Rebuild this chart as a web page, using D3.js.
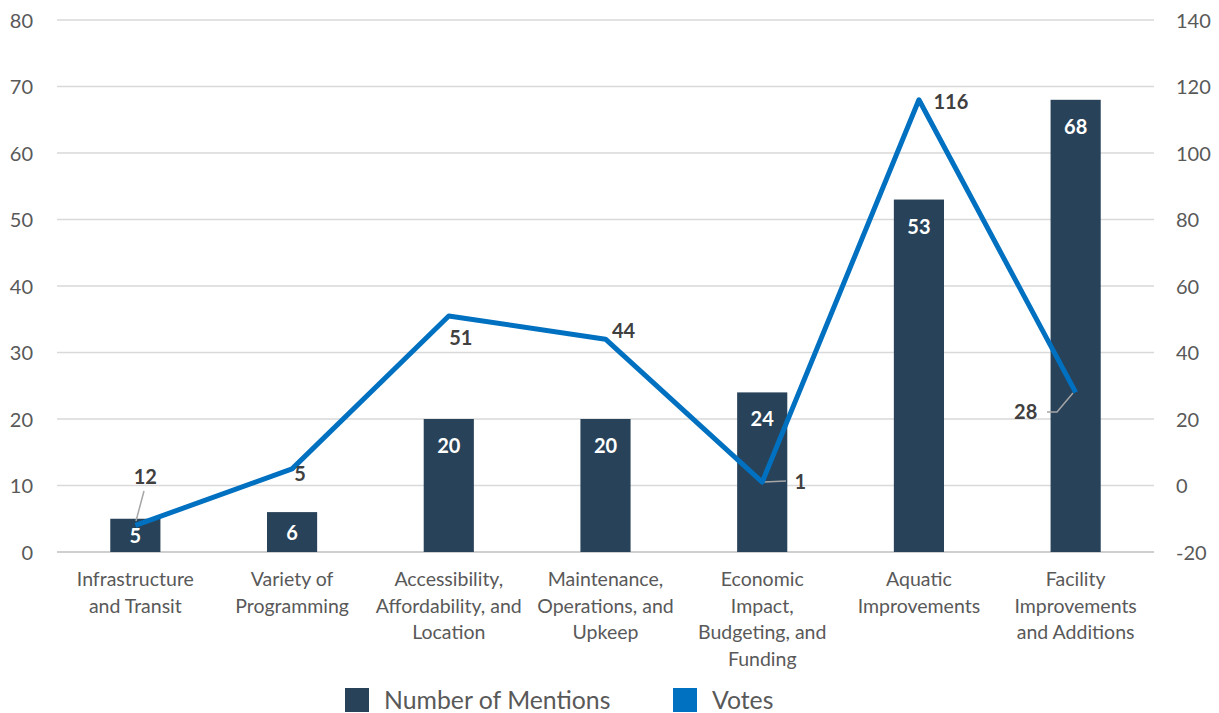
<!DOCTYPE html>
<html lang="en">
<head>
<meta charset="UTF-8">
<title>Mentions and Votes</title>
<script src="https://d3js.org/d3.v7.min.js"></script>
<style>
    body { margin: 0; background: #fff; }
    svg { display: block; font-family: "Lato", "Open Sans", sans-serif; }
</style>
</head>
<body>
<svg id="chart" width="1219" height="713"></svg>
<script>
// data
var categories = [
    ["Infrastructure", "and Transit"],
    ["Variety of", "Programming"],
    ["Accessibility,", "Affordability, and", "Location"],
    ["Maintenance,", "Operations, and", "Upkeep"],
    ["Economic", "Impact,", "Budgeting, and", "Funding"],
    ["Aquatic", "Improvements"],
    ["Facility", "Improvements", "and Additions"]
];
var mentions = [5, 6, 20, 20, 24, 53, 68];
var votes = [-12, 5, 51, 44, 1, 116, 28];
var voteLabels = ["12", "5", "51", "44", "1", "116", "28"];
var leftTicks = [0, 10, 20, 30, 40, 50, 60, 70, 80];
var rightTicks = [-20, 0, 20, 40, 60, 80, 100, 120, 140];

var svg = d3.select("#chart"),
    plotLeft = 57, plotRight = 1154, plotTop = 20, plotBottom = 552;

var x = d3.scaleBand()
    .domain(d3.range(categories.length))
    .range([plotLeft, plotRight])
    .paddingInner(0.68)
    .paddingOuter(0.34);

var yL = d3.scaleLinear().domain([0, 80]).range([plotBottom, plotTop]);
var yR = d3.scaleLinear().domain([-20, 140]).range([plotBottom, plotTop]);

var cx = function(i) { return x(i) + x.bandwidth() / 2; };

// gridlines
svg.append("g")
    .selectAll("line")
    .data(leftTicks)
    .join("line")
    .attr("x1", plotLeft).attr("x2", plotRight)
    .attr("y1", function(d) { return yL(d); })
    .attr("y2", function(d) { return yL(d); })
    .attr("stroke", function(d) { return d === 0 ? "#bfbfbf" : "#d9d9d9"; })
    .attr("stroke-width", 1.5);

// left axis
var axL = svg.append("g")
    .attr("transform", "translate(33,0)")
    .call(d3.axisLeft(yL).tickValues(leftTicks).tickSize(0).tickPadding(0));
axL.select(".domain").remove();
axL.selectAll("text")
    .attr("font-size", 20).attr("fill", "#595959").attr("dy", "0.35em")
    .style("font-family", "Lato, sans-serif");

// right axis (plain hyphen for negatives, like the original)
var axR = svg.append("g")
    .attr("transform", "translate(1176,0)")
    .call(d3.axisRight(yR).tickValues(rightTicks).tickSize(0).tickPadding(0)
        .tickFormat(function(d) { return String(d); }));
axR.select(".domain").remove();
axR.selectAll("text")
    .attr("font-size", 20).attr("fill", "#595959").attr("dy", "0.35em")
    .style("font-family", "Lato, sans-serif");

// bars
svg.append("g")
    .selectAll("rect")
    .data(mentions)
    .join("rect")
    .attr("x", function(d, i) { return x(i); })
    .attr("y", function(d) { return yL(d); })
    .attr("width", x.bandwidth())
    .attr("height", function(d) { return yL(0) - yL(d); })
    .attr("fill", "#284259");

// bar labels sit inside the top, centred in short bars
svg.append("g")
    .selectAll("text")
    .data(mentions)
    .join("text")
    .attr("x", function(d, i) { return cx(i); })
    .attr("y", function(d) {
        var h = yL(0) - yL(d);
        return yL(d) + Math.min(27, h / 2 + 1);
    })
    .attr("dy", "0.35em")
    .attr("text-anchor", "middle")
    .attr("font-size", 20)
    .attr("font-weight", "bold")
    .attr("fill", "#fff")
    .text(function(d) { return d; });

// category labels
svg.append("g")
    .selectAll("text")
    .data(categories)
    .join("text")
    .attr("x", function(d, i) { return cx(i); })
    .attr("y", 586)
    .attr("text-anchor", "middle")
    .attr("font-size", 19.5)
    .attr("fill", "#595959")
    .each(function(d) {
        var t = d3.select(this);
        d.forEach(function(line, k) {
            t.append("tspan")
                .attr("x", t.attr("x"))
                .attr("dy", k === 0 ? 0 : 26.5)
                .text(line);
        });
    });

// votes line
var line = d3.line()
    .x(function(d, i) { return cx(i); })
    .y(function(d) { return yR(d); });

// leader lines for labels that sit away from the point
var leaders = [
    [0, [[144, 491], [136, 521]]],
    [4, [[786, 481], [764, 482]]],
    [6, [[1047, 412], [1057, 412], [1073, 393]]]
];
svg.append("g")
    .selectAll("path")
    .data(leaders)
    .join("path")
    .attr("d", function(d) { return d3.line()(d[1]); })
    .attr("fill", "none")
    .attr("stroke", "#a6a6a6")
    .attr("stroke-width", 1.5);

svg.append("path")
    .datum(votes)
    .attr("d", line)
    .attr("fill", "none")
    .attr("stroke", "#0070c0")
    .attr("stroke-width", 5)
    .attr("stroke-linejoin", "round");

// vote labels, offsets relative to each point
var labelOffsets = [[10, -48], [8, 5], [12, 22], [18, -8], [38, 0], [32, 2], [-50, 20]];
svg.append("g")
    .selectAll("text")
    .data(votes)
    .join("text")
    .attr("x", function(d, i) { return cx(i) + labelOffsets[i][0]; })
    .attr("y", function(d, i) { return yR(d) + labelOffsets[i][1]; })
    .attr("dy", "0.35em")
    .attr("text-anchor", "middle")
    .attr("font-size", 20)
    .attr("font-weight", "bold")
    .attr("fill", "#404040")
    .text(function(d, i) { return voteLabels[i]; });

// legend
var legend = [
    { name: "Number of Mentions", color: "#284259", x: 345 },
    { name: "Votes", color: "#0070c0", x: 673 }
];
var lg = svg.append("g")
    .selectAll("g")
    .data(legend)
    .join("g")
    .attr("transform", function(d) { return "translate(" + d.x + ",688)"; });
lg.append("rect")
    .attr("width", 24).attr("height", 24)
    .attr("fill", function(d) { return d.color; });
lg.append("text")
    .attr("x", 39).attr("y", 21)
    .attr("font-size", 24.8)
    .attr("fill", "#595959")
    .text(function(d) { return d.name; });
</script>
</body>
</html>
